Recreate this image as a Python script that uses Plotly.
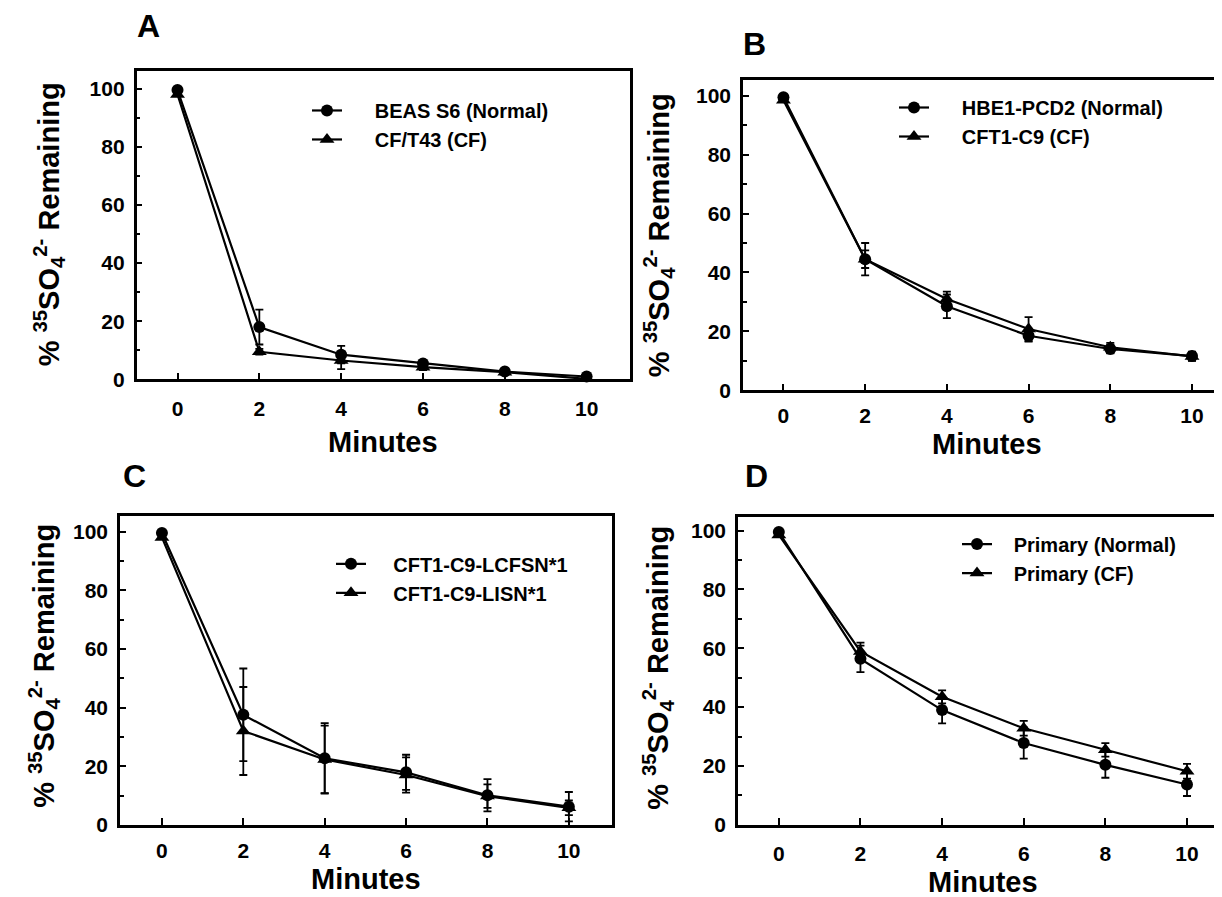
import plotly.graph_objects as go

minutes = [0, 2, 4, 6, 8, 10]

# Panel A
a_names = ["BEAS S6 (Normal)", "CF/T43 (CF)"]
a_normal = [99.5, 18, 8.5, 5.5, 2.7, 1.0]
a_normal_err = [0, 6, 3, 1, 0.5, 0.5]
a_cf = [98, 9.5, 6.5, 4.2, 2.5, 0.2]
a_cf_err = [0, 1, 3, 1, 0.5, 0.5]

# Panel B
b_names = ["HBE1-PCD2 (Normal)", "CFT1-C9 (CF)"]
b_normal = [99.5, 44.5, 28.5, 18.5, 14, 11.6]
b_normal_err = [0, 3, 4, 2, 1.5, 1.5]
b_cf = [98.5, 44.5, 31, 20.8, 14.6, 11.5]
b_cf_err = [0, 5.5, 2.5, 4, 1.5, 1.5]

# Panel C
c_names = ["CFT1-C9-LCFSN*1", "CFT1-C9-LISN*1"]
c_normal = [99.5, 37.5, 22.7, 17.9, 10.1, 6.2]
c_normal_err = [0, 15.8, 12, 6, 5.5, 5]
c_cf = [98, 32, 22.3, 17, 9.8, 5.8]
c_cf_err = [0, 15, 11.5, 6, 4, 2.5]

# Panel D
d_names = ["Primary (Normal)", "Primary (CF)"]
d_normal = [99.5, 56.4, 39, 27.8, 20.4, 13.7]
d_normal_err = [0, 4.5, 4.5, 5.3, 4.4, 3.9]
d_cf = [98.5, 58.9, 43.5, 32.8, 25.5, 18.2]
d_cf_err = [0, 3, 2.2, 2.5, 2.3, 2.5]

panel_letters = ["A", "B", "C", "D"]
x_ticks = [0, 2, 4, 6, 8, 10]
y_ticks = [0, 20, 40, 60, 80, 100]
x_title = "Minutes"
y_title = "% <sup>35</sup>SO<sub>4</sub><sup>2-</sup> Remaining"

FONT = "Liberation Sans, Arial, Helvetica, sans-serif"
W, H = 1222, 897

panels = [
    (a_names, a_normal, a_normal_err, a_cf, a_cf_err),
    (b_names, b_normal, b_normal_err, b_cf, b_cf_err),
    (c_names, c_normal, c_normal_err, c_cf, c_cf_err),
    (d_names, d_normal, d_normal_err, d_cf, d_cf_err),
]

def px_x(p):
    return p / W

def px_y(p):
    return 1 - p / H

# geometry in pixels: plot box, axis ranges, legend position/gap, labels
geo = [
    dict(l=128.6, r=622, t=64, b=376, xr=[-1.0, 11.06], yr=[0, 106], ymirror=True,
         leg=(299, 84), gap=5, letter=(140, 18), xt=439, xstand=9, yt=(41, 219), xc=375),
    dict(l=735, r=1222, t=73, b=387, xr=[-0.99, 10.93], yr=[0, 105.3], ymirror=False,
         leg=(886, 81), gap=5, letter=(747, 36), xt=441, xstand=5, yt=(651, 230), xc=979),
    dict(l=112, r=604, t=514, b=827, xr=[-1.03, 11.06], yr=[0, 105.4], ymirror=True,
         leg=(323, 543), gap=4, letter=(127, 474), xt=882, xstand=5, yt=(36, 666), xc=358),
    dict(l=730, r=1219, t=515, b=827, xr=[-1.0, 10.98], yr=[0, 104.7], ymirror=True,
         leg=(949, 523), gap=3, letter=(748, 474), xt=885, xstand=8, yt=(650, 668), xc=975),
]

fig = go.Figure()
annotations = []
lay = {}
for i, ((names, yn, en, yc, ec), g) in enumerate(zip(panels, geo)):
    k = "" if i == 0 else str(i + 1)
    xa, ya = "x" + k, "y" + k
    lg = "legend" + k
    pad = "&nbsp;" * g["gap"]
    fig.add_trace(go.Scatter(
        x=minutes, y=yn, xaxis=xa, yaxis=ya, mode="lines+markers", name=pad + names[0],
        legend=lg, cliponaxis=False,
        line=dict(color="black", width=2.2),
        marker=dict(symbol="circle", size=12, color="black"),
        error_y=dict(type="data", array=en, visible=True, color="black", thickness=1.8, width=4)))
    fig.add_trace(go.Scatter(
        x=minutes, y=yc, xaxis=xa, yaxis=ya, mode="lines+markers", name=pad + names[1],
        legend=lg, cliponaxis=False,
        line=dict(color="black", width=2.2),
        marker=dict(symbol="triangle-up", size=13, color="black"),
        error_y=dict(type="data", array=ec, visible=True, color="black", thickness=1.8, width=4)))

    lay["xaxis" + k] = dict(
        domain=[px_x(g["l"]), px_x(g["r"])], range=g["xr"], anchor=ya, tickvals=x_ticks,
        ticks="inside", ticklen=7, tickwidth=2, tickcolor="black",
        showline=True, linecolor="black", linewidth=2.5, mirror=True,
        showgrid=False, zeroline=False, ticklabelstandoff=g["xstand"],
        tickfont=dict(family=FONT, size=21, color="black", weight="bold"))
    lay["yaxis" + k] = dict(
        domain=[px_y(g["b"]), px_y(g["t"])], range=g["yr"], anchor=xa, tickvals=y_ticks,
        ticks="inside", ticklen=6, tickwidth=2, tickcolor="black",
        minor=dict(dtick=10, ticks="inside", ticklen=4, tickcolor="black", tickwidth=1.5),
        showline=True, linecolor="black", linewidth=2.5, mirror=g["ymirror"],
        showgrid=False, zeroline=False, ticklabelstandoff=5,
        tickfont=dict(family=FONT, size=21, color="black", weight="bold"))
    lay[lg] = dict(
        x=px_x(g["leg"][0]), y=px_y(g["leg"][1]), xanchor="left", yanchor="top",
        bgcolor="rgba(0,0,0,0)", borderwidth=0, itemwidth=30,
        font=dict(family=FONT, size=20, color="black", weight="bold"),
        tracegroupgap=0)

    # panel letter
    annotations.append(dict(
        x=px_x(g["letter"][0]), y=px_y(g["letter"][1]), xref="paper", yref="paper",
        text="<b>" + panel_letters[i] + "</b>", showarrow=False,
        xanchor="center", yanchor="middle",
        font=dict(family=FONT, size=32, color="black")))
    # x-axis title
    annotations.append(dict(
        x=px_x(g["xc"]), y=px_y(g["xt"]), xref="paper", yref="paper",
        text="<b>" + x_title + "</b>", showarrow=False,
        xanchor="center", yanchor="middle",
        font=dict(family=FONT, size=29, color="black")))
    # y-axis title
    annotations.append(dict(
        x=px_x(g["yt"][0]), y=px_y(g["yt"][1]), xref="paper", yref="paper",
        text="<b>" + y_title + "</b>", showarrow=False, textangle=-90,
        xanchor="center", yanchor="middle",
        font=dict(family=FONT, size=29, color="black")))

fig.update_layout(
    width=W, height=H,
    margin=dict(l=0, r=0, t=0, b=0),
    paper_bgcolor="white", plot_bgcolor="white",
    annotations=annotations,
    **lay)

fig.write_html("out.html")
